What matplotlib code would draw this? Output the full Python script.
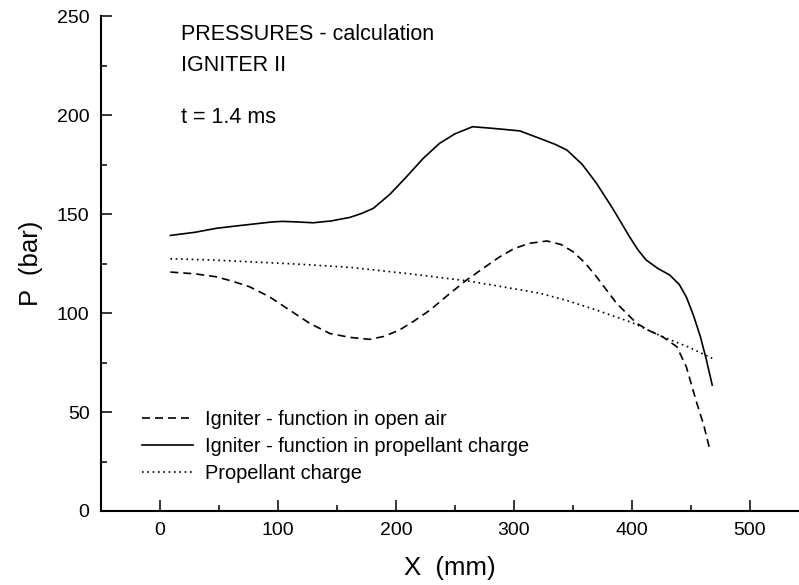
import matplotlib
matplotlib.use('Agg')
import matplotlib.pyplot as plt
from matplotlib.ticker import MultipleLocator

plt.rcParams['font.family'] = ['Liberation Sans', 'DejaVu Sans']

# igniter - function in open air (dashed)
x_air = [9, 30, 48, 62, 76, 93, 110, 127, 144, 161, 178, 190, 203, 215, 229, 245,
         260, 275, 288, 300, 313, 328, 340, 350, 360, 370, 387, 404, 415, 426, 438,
         446, 455, 461, 466]
p_air = [120.7, 119.8, 118.3, 116, 113.3, 108.2, 101.5, 94.8, 89.7, 87.7, 86.7,
         88.2, 91.4, 95.8, 101.5, 109.5, 116.7, 123, 128.4, 132.5, 135.2, 136.4,
         134.6, 131, 125.5, 118.3, 104.9, 94.8, 91, 88, 83, 72.9, 54.4, 43, 30.8]

# igniter - function in propellant charge (solid)
x_charge = [9, 30, 48, 65, 80, 95, 104, 117, 130, 145, 161, 171, 181, 195, 209,
            223, 237, 250, 265, 280, 291, 305, 322, 335, 345, 358, 370, 384, 398,
            405, 412, 422, 432, 440, 446, 452, 458, 463, 468]
p_charge = [139.2, 140.8, 142.8, 144, 145, 146, 146.3, 146, 145.6, 146.5, 148.3,
            150.3, 152.9, 160, 168.8, 178, 185.7, 190.5, 194.1, 193.4, 192.8, 192,
            188.2, 185.2, 182.3, 175, 165.5, 152.5, 138.5, 132, 126.8, 122.5, 119.2,
            114.5, 108.2, 99, 88, 76.5, 63.6]

# propellant charge (dotted)
x_prop = [9, 40, 76, 120, 161, 209, 260, 290, 322, 345, 370, 400, 426, 448, 468]
p_prop = [127.4, 126.9, 125.9, 124.6, 123.1, 120, 116.3, 113.3, 110, 106.3, 101.5,
          95.2, 88, 82.8, 77.1]

labels = ['Igniter - function in open air',
          'Igniter - function in propellant charge',
          'Propellant charge']

fig = plt.figure(figsize=(7.99, 5.85), dpi=100)
ax = fig.add_axes([0.126, 0.1265, 0.874, 0.846])

lw = 1.2
ax.plot(x_air, p_air, color='black', lw=lw, dashes=(4.8, 3), label=labels[0])
ax.plot(x_charge, p_charge, color='black', lw=lw, label=labels[1])
ax.plot(x_prop, p_prop, color='black', lw=lw, dashes=(1, 2.2), label=labels[2])

ax.set_xlim(-50, 541.5)
ax.set_ylim(0, 250)
ax.spines['top'].set_visible(False)
ax.spines['right'].set_visible(False)
ax.spines['left'].set_linewidth(1.5)
ax.spines['bottom'].set_linewidth(1.5)

ax.xaxis.set_major_locator(MultipleLocator(100))
ax.xaxis.set_minor_locator(MultipleLocator(50))
ax.yaxis.set_major_locator(MultipleLocator(50))
ax.yaxis.set_minor_locator(MultipleLocator(25))
ax.tick_params(which='both', direction='in', width=1.1, labelsize=14, pad=8)
ax.tick_params(which='major', length=8)
ax.tick_params(which='minor', length=4.3)

ax.set_xlabel('X  (mm)', fontsize=18.5, labelpad=12)
ax.set_ylabel('P  (bar)', fontsize=18.5, labelpad=10)

ax.text(18, 238, 'PRESSURES - calculation', fontsize=15.5, va='baseline')
ax.text(18, 222.2, 'IGNITER II', fontsize=15.5, va='baseline')
ax.text(18, 196, 't = 1.4 ms', fontsize=15.5, va='baseline')

ax.legend(loc='upper left', bbox_to_anchor=(-15.3, 50.8), bbox_transform=ax.transData,
          frameon=False, fontsize=14.4, handlelength=2.55, handletextpad=0.6,
          labelspacing=0.4, borderpad=0, borderaxespad=0)

fig.savefig('out.png', dpi=100)
